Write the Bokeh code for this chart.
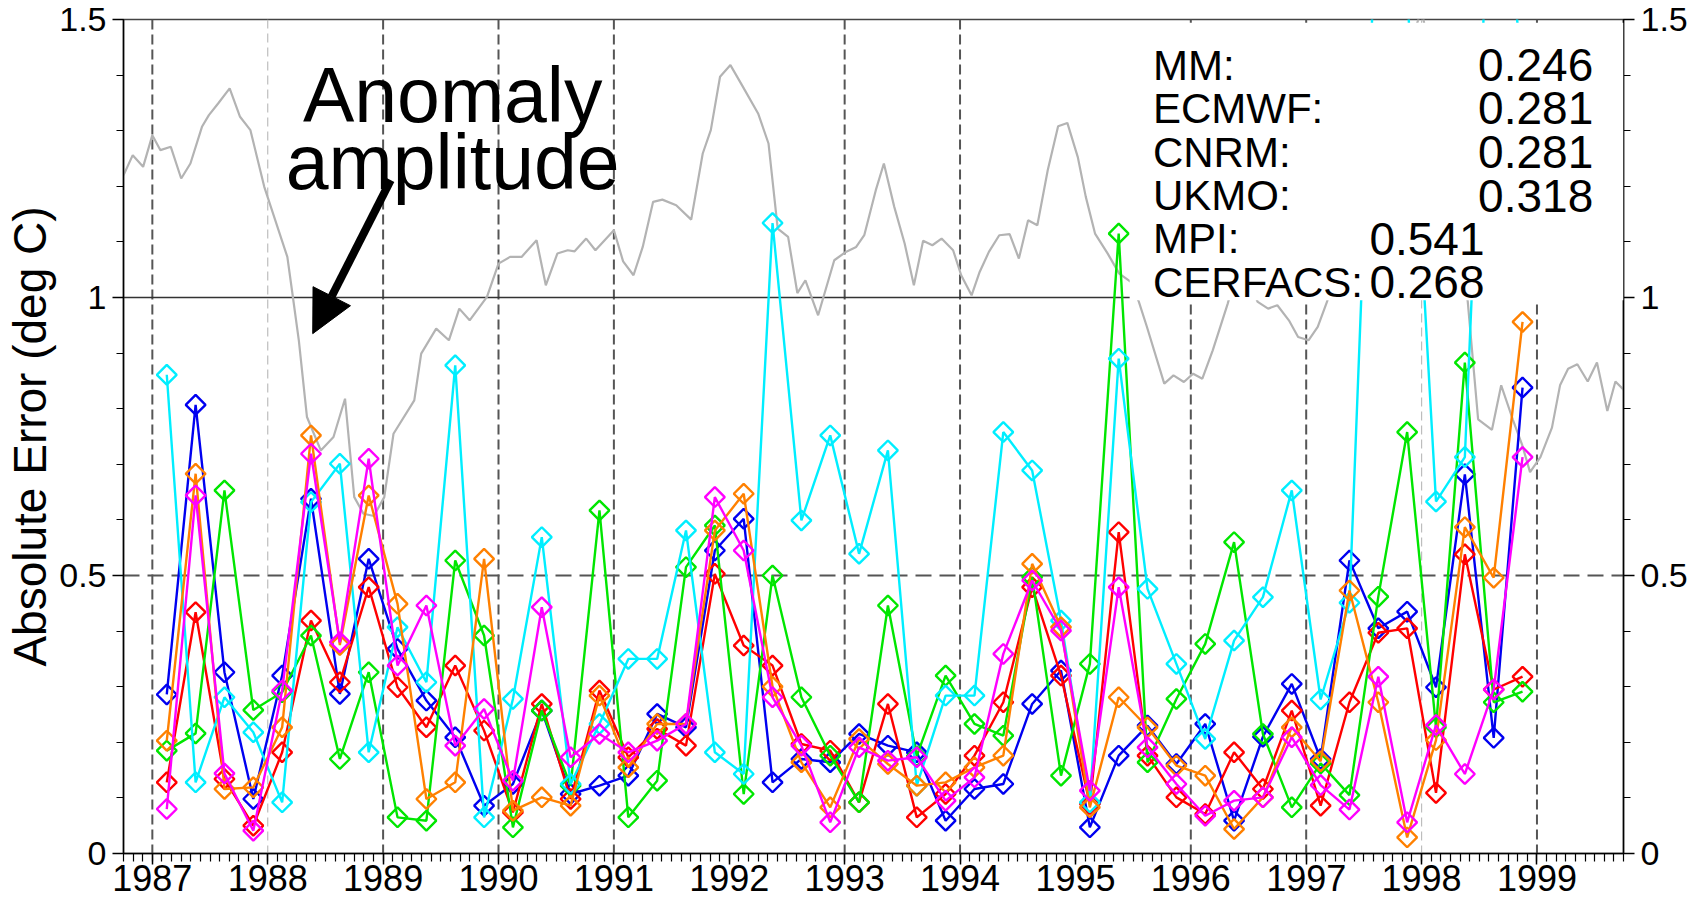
import numpy as np
from bokeh.plotting import figure
from bokeh.models import (Range1d, LinearAxis, FixedTicker, NumeralTickFormatter, Span,
                          BoxAnnotation, Label, Arrow, NormalHead)
from bokeh.embed import file_html
from bokeh.resources import INLINE

# ---------------- data ----------------
years = [1987, 1988, 1989, 1990, 1991, 1992, 1993, 1994, 1995, 1996, 1997, 1998, 1999]
# seasonal sample times (mid Feb, May, Aug, Nov of each year 1987-1998)
t = [y + q for y in range(1987, 1999) for q in (0.125, 0.375, 0.625, 0.875)]

blue_err = [0.286, 0.807, 0.326, 0.098, 0.320, 0.638, 0.287, 0.530, 0.368, 0.275, 0.209, 0.086,
            0.125, 0.257, 0.107, 0.122, 0.140, 0.251, 0.227, 0.545, 0.602, 0.128, 0.170, 0.164,
            0.215, 0.194, 0.182, 0.059, 0.116, 0.125, 0.269, 0.329, 0.047, 0.176, 0.230, 0.161,
            0.233, 0.059, 0.210, 0.305, 0.170, 0.527, 0.405, 0.435, 0.299, 0.682, 0.208, 0.838]
red_err = [0.128, 0.434, 0.134, 0.050, 0.182, 0.419, 0.308, 0.479, 0.299, 0.227, 0.338, 0.221,
           0.074, 0.269, 0.098, 0.293, 0.173, 0.224, 0.194, 0.503, 0.374, 0.338, 0.197, 0.185,
           0.092, 0.269, 0.065, 0.107, 0.176, 0.272, 0.479, 0.320, 0.089, 0.578, 0.176, 0.101,
           0.071, 0.182, 0.116, 0.257, 0.086, 0.272, 0.397, 0.405, 0.109, 0.538, 0.295, 0.318]
green_err = [0.185, 0.216, 0.653, 0.258, 0.290, 0.392, 0.170, 0.326, 0.065, 0.059, 0.527, 0.392,
             0.047, 0.257, 0.122, 0.617, 0.065, 0.131, 0.515, 0.590, 0.107, 0.500, 0.281, 0.176,
             0.092, 0.446, 0.175, 0.320, 0.233, 0.212, 0.497, 0.140, 0.341, 1.115, 0.164, 0.278,
             0.377, 0.560, 0.215, 0.083, 0.162, 0.105, 0.462, 0.758, 0.227, 0.883, 0.272, 0.291]
cyan_err = [0.861, 0.128, 0.281, 0.218, 0.092, 0.632, 0.701, 0.182, 0.407, 0.308, 0.878, 0.065,
            0.278, 0.569, 0.125, 0.233, 0.350, 0.350, 0.581, 0.182, 0.143, 1.134, 0.599, 0.752,
            0.539, 0.725, 0.122, 0.284, 0.284, 0.758, 0.689, 0.419, 0.092, 0.890, 0.476, 0.341,
            0.206, 0.383, 0.461, 0.653, 0.277, 0.451, 1.790, 1.550, 0.633, 0.713, 1.930, 1.400]
orange_err = [0.203, 0.683, 0.116, 0.119, 0.227, 0.752, 0.375, 0.644, 0.449, 0.098, 0.128, 0.530,
              0.077, 0.101, 0.086, 0.284, 0.155, 0.233, 0.233, 0.581, 0.647, 0.300, 0.164, 0.083,
              0.206, 0.161, 0.122, 0.128, 0.155, 0.176, 0.521, 0.407, 0.083, 0.281, 0.227, 0.158,
              0.140, 0.044, 0.101, 0.227, 0.166, 0.473, 0.272, 0.029, 0.204, 0.587, 0.496, 0.956]
magenta_err = [0.080, 0.644, 0.144, 0.041, 0.293, 0.719, 0.380, 0.710, 0.338, 0.446, 0.194, 0.260,
               0.131, 0.443, 0.173, 0.215, 0.182, 0.203, 0.233, 0.641, 0.545, 0.281, 0.194, 0.056,
               0.191, 0.167, 0.173, 0.095, 0.137, 0.359, 0.491, 0.401, 0.113, 0.479, 0.191, 0.125,
               0.068, 0.095, 0.101, 0.209, 0.123, 0.079, 0.318, 0.056, 0.231, 0.143, 0.295, 0.713]

# anomaly amplitude (grey line)
gray_t = [1986.75, 1986.83, 1986.92, 1987.00, 1987.07, 1987.16, 1987.25, 1987.33, 1987.43, 1987.49,
          1987.57, 1987.67, 1987.76, 1987.85, 1987.97, 1988.17, 1988.21, 1988.27, 1988.34, 1988.46,
          1988.57, 1988.67, 1988.75, 1988.83, 1988.92, 1989.01, 1989.09, 1989.27, 1989.33, 1989.46,
          1989.57, 1989.66, 1989.75, 1989.90, 1990.00, 1990.10, 1990.20, 1990.33, 1990.41, 1990.51,
          1990.60, 1990.66, 1990.76, 1990.84, 1991.00, 1991.08, 1991.17, 1991.25, 1991.34, 1991.42,
          1991.54, 1991.67, 1991.77, 1991.84, 1991.92, 1992.01, 1992.11, 1992.25, 1992.34, 1992.42,
          1992.51, 1992.59, 1992.66, 1992.77, 1992.91, 1993.01, 1993.10, 1993.17, 1993.27, 1993.34,
          1993.43, 1993.52, 1993.60, 1993.68, 1993.76, 1993.84, 1993.94, 1994.01, 1994.10, 1994.17,
          1994.25, 1994.34, 1994.43, 1994.51, 1994.59, 1994.67, 1994.76, 1994.85, 1994.93, 1995.02,
          1995.09, 1995.17, 1995.28, 1995.38, 1995.48, 1995.55, 1995.62, 1995.77, 1995.85, 1995.94,
          1996.02, 1996.10, 1996.19, 1996.32, 1996.40, 1996.50, 1996.58, 1996.67, 1996.75, 1996.85,
          1996.93, 1997.02, 1997.10, 1997.18, 1997.30, 1997.45, 1997.60, 1997.75, 1997.90, 1998.00,
          1998.10, 1998.25, 1998.40, 1998.49, 1998.61, 1998.69, 1998.79, 1998.87, 1998.94, 1999.03,
          1999.13, 1999.20, 1999.27, 1999.35, 1999.44, 1999.52, 1999.61, 1999.68, 1999.77]
gray_v = [1.220, 1.256, 1.235, 1.292, 1.265, 1.271, 1.214, 1.241, 1.307, 1.328,
          1.349, 1.376, 1.325, 1.301, 1.199, 1.073, 1.013, 0.922, 0.785, 0.725,
          0.749, 0.818, 0.641, 0.611, 0.607, 0.641, 0.755, 0.815, 0.899, 0.944,
          0.923, 0.980, 0.959, 1.001, 1.061, 1.073, 1.073, 1.103, 1.022, 1.079,
          1.085, 1.083, 1.106, 1.085, 1.121, 1.065, 1.040, 1.091, 1.172, 1.176,
          1.166, 1.140, 1.259, 1.301, 1.397, 1.418, 1.382, 1.331, 1.277, 1.124,
          1.109, 1.008, 1.031, 0.968, 1.067, 1.082, 1.091, 1.112, 1.193, 1.241,
          1.163, 1.097, 1.022, 1.102, 1.094, 1.106, 1.085, 1.040, 1.004, 1.046,
          1.082, 1.112, 1.114, 1.070, 1.139, 1.130, 1.229, 1.308, 1.314, 1.253,
          1.181, 1.115, 1.079, 1.043, 1.028, 0.992, 0.947, 0.845, 0.860, 0.848,
          0.863, 0.854, 0.905, 0.989, 1.050, 1.030, 0.992, 0.980, 0.986, 0.959,
          0.929, 0.923, 0.947, 0.992, 1.080, 1.150, 1.250, 1.350, 1.450, 1.520,
          1.400, 1.200, 0.993, 0.781, 0.762, 0.842, 0.781, 0.736, 0.686, 0.713,
          0.766, 0.842, 0.872, 0.880, 0.849, 0.883, 0.796, 0.849, 0.830]

stats_names = ["MM:", "ECMWF:", "CNRM:", "UKMO:", "MPI:", "CERFACS:"]
stats_values = ["0.246", "0.281", "0.281", "0.318", "0.541", "0.268"]

# ---------------- figure ----------------
FONT = "Liberation Sans"
p = figure(width=1702, height=902, output_backend="svg", toolbar_location=None,
           x_range=Range1d(1986.75, 1999.75), y_range=Range1d(0, 1.5),
           min_border_left=123, min_border_right=79, min_border_top=19, min_border_bottom=49,
           background_fill_color="white", border_fill_color="white")
p.xgrid.visible = False
p.ygrid.visible = False
p.outline_line_color = "#444444"
p.outline_line_width = 1.5

y_ticker = FixedTicker(ticks=[0, 0.5, 1, 1.5], minor_ticks=[i / 10 for i in range(16)])
y_over = {0: "0", 0.5: "0.5", 1: "1", 1.5: "1.5"}

def style_y(ax):
    ax.ticker = y_ticker
    ax.major_label_overrides = y_over
    ax.major_label_text_font = FONT
    ax.major_label_text_font_size = "34px"
    ax.major_label_text_color = "black"
    ax.axis_line_color = "black"
    ax.axis_line_width = 1.5
    ax.major_tick_line_color = "black"
    ax.minor_tick_line_color = "black"
    ax.major_tick_out = 11
    ax.major_tick_in = 0
    ax.minor_tick_out = 7
    ax.minor_tick_in = 0
    ax.major_tick_line_width = 1.5
    ax.minor_tick_line_width = 1.2
    ax.major_label_standoff = 6

ly = p.yaxis[0]
style_y(ly)
ly.axis_label = "Absolute Error (deg C)"
ly.axis_label_text_font = FONT
ly.axis_label_text_font_size = "46px"
ly.axis_label_text_font_style = "normal"
ly.axis_label_text_color = "black"
ly.axis_label_standoff = 0

ry = LinearAxis()
style_y(ry)
p.add_layout(ry, "right")

xa = p.xaxis[0]
xa.ticker = FixedTicker(ticks=years, minor_ticks=[1986.75 + i / 12 for i in range(157)])
xa.formatter = NumeralTickFormatter(format="0")
xa.major_label_text_font = FONT
xa.major_label_text_font_size = "36px"
xa.major_label_text_color = "black"
xa.axis_line_color = "black"
xa.axis_line_width = 1.5
xa.major_tick_out = 11
xa.major_tick_in = 0
xa.minor_tick_out = 8
xa.minor_tick_in = 0
xa.major_tick_line_color = "black"
xa.minor_tick_line_color = "black"
xa.major_tick_line_width = 1.5
xa.minor_tick_line_width = 1.2
xa.major_label_standoff = 0

# grid lines (vertical per year, horizontal at 0.5 and 1)
light_years = {1988, 1998}
skip_years = {1992, 1995}
for yr in years:
    if yr in skip_years:
        continue
    if yr in light_years:
        s = Span(location=yr, dimension="height", line_color="#bdbdbd", line_width=1.2,
                 line_dash="9 5", level="underlay")
    else:
        s = Span(location=yr, dimension="height", line_color="#555555", line_width=2,
                 line_dash="10 5", level="underlay")
    p.add_layout(s)
p.add_layout(Span(location=0.5, dimension="width", line_color="#555555", line_width=2,
                  line_dash="16 8", level="underlay"))
p.add_layout(Span(location=1.0, dimension="width", line_color="#333333", line_width=1.5,
                  level="underlay"))

# anomaly amplitude
p.line(gray_t, gray_v, line_color="#b3b3b3", line_width=2.2)

series = [(blue_err, "#0000f0"), (red_err, "#ff0000"), (green_err, "#00e600"),
          (cyan_err, "#00eeff"), (orange_err, "#ff8000"), (magenta_err, "#ff00ff")]
for vals, col in series:
    p.line(t, vals, line_color=col, line_width=2.4)
    p.scatter(t, vals, marker="square", angle=np.pi / 4, size=14, fill_color=None,
              line_color=col, line_width=2.4)

# white box behind statistics
p.add_layout(BoxAnnotation(left=1995.47, bottom=0.995, top=1.494, fill_color="white",
                           fill_alpha=1.0, line_alpha=0.0))

name_x = 1995.672
val_x = [1998.49, 1998.49, 1998.49, 1998.49, 1997.548, 1997.548]
row_y = [1.418, 1.340, 1.261, 1.183, 1.106, 1.027]
for nm, vv, vx, ry_ in zip(stats_names, stats_values, val_x, row_y):
    p.add_layout(Label(x=name_x, y=ry_, text=nm, text_font=FONT, text_font_size="42px",
                       text_color="black", text_baseline="alphabetic", text_align="left"))
    p.add_layout(Label(x=vx, y=ry_, text=vv, text_font=FONT, text_font_size="46px",
                       text_color="black", text_baseline="alphabetic", text_align="left"))

# annotation
p.add_layout(Label(x=1989.603, y=1.364, text="Anomaly", text_font=FONT, text_font_size="77px",
                   text_color="black", text_baseline="alphabetic", text_align="center"))
p.add_layout(Label(x=1989.603, y=1.243, text="amplitude", text_font=FONT, text_font_size="77px",
                   text_color="black", text_baseline="alphabetic", text_align="center"))
p.add_layout(Arrow(end=NormalHead(size=42, fill_color="black", line_color="black"),
                   x_start=1989.066, y_start=1.211, x_end=1988.39, y_end=0.935,
                   line_width=8, line_color="black"))

open("out.html", "w").write(file_html(p, INLINE))
